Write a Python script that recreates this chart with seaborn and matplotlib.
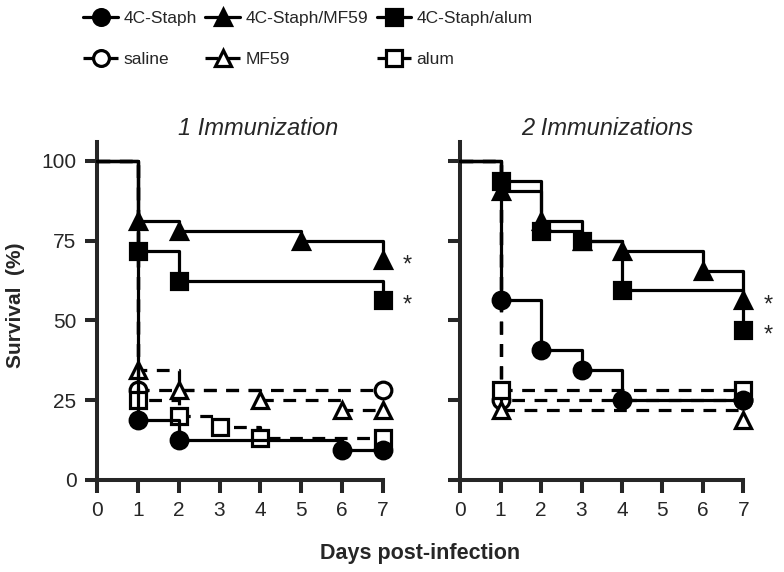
import matplotlib.pyplot as plt
import seaborn as sns

# ---- 1 immunization (days, survival %) ----
days_staph_1 = [0, 1, 2, 6, 7]
surv_staph_1 = [100, 18.8, 12.5, 9.4, 9.4]
days_staph_mf59_1 = [0, 1, 2, 5, 7]
surv_staph_mf59_1 = [100, 81.3, 78.1, 75.0, 68.8]
days_staph_alum_1 = [0, 1, 2, 7]
surv_staph_alum_1 = [100, 71.9, 62.5, 56.3]
days_saline_1 = [0, 1, 7]
surv_saline_1 = [100, 28.1, 28.1]
days_mf59_1 = [0, 1, 2, 4, 6, 7]
surv_mf59_1 = [100, 34.4, 28.1, 25.0, 21.9, 21.9]
days_alum_1 = [0, 1, 2, 3, 4, 7]
surv_alum_1 = [100, 25.0, 20.0, 16.5, 13.0, 13.0]

# ---- 2 immunizations ----
days_staph_2 = [0, 1, 2, 3, 4, 7]
surv_staph_2 = [100, 56.3, 40.6, 34.4, 25.0, 25.0]
days_staph_mf59_2 = [0, 1, 2, 3, 4, 6, 7]
surv_staph_mf59_2 = [100, 90.6, 81.3, 75.0, 71.9, 65.6, 56.3]
days_staph_alum_2 = [0, 1, 2, 3, 4, 7]
surv_staph_alum_2 = [100, 93.8, 78.1, 75.0, 59.4, 46.9]
days_saline_2 = [0, 1, 7]
surv_saline_2 = [100, 25.0, 25.0]
days_mf59_2 = [0, 1, 7]
surv_mf59_2 = [100, 21.9, 18.8]
days_alum_2 = [0, 1, 7]
surv_alum_2 = [100, 28.1, 28.1]

# significance marks at day 7
star_y_1 = [68.8, 56.3]
star_y_2 = [56.3, 46.9]

panel_titles = ["1 Immunization", "2 Immunizations"]
day_ticks = [0, 1, 2, 3, 4, 5, 6, 7]
surv_ticks = [0, 25, 50, 75, 100]

sns.set_style("ticks")
plt.rcParams["font.family"] = ["Liberation Sans", "DejaVu Sans"]

fig = plt.figure(figsize=(7.84, 5.72), dpi=100)
ax1 = fig.add_axes([0.124, 0.161, 0.364, 0.591])
ax2 = fig.add_axes([0.587, 0.161, 0.361, 0.591])

# name -> (marker, face colour, line style); controls drawn first (underneath)
styles = {
    "saline": ("o", "white", (0, (4, 3))),
    "MF59": ("^", "white", (0, (4, 3))),
    "alum": ("s", "white", (0, (4, 3))),
    "4C-Staph": ("o", "black", "-"),
    "4C-Staph/MF59": ("^", "black", "-"),
    "4C-Staph/alum": ("s", "black", "-"),
}

panel_data = [
    {
        "saline": (days_saline_1, surv_saline_1),
        "MF59": (days_mf59_1, surv_mf59_1),
        "alum": (days_alum_1, surv_alum_1),
        "4C-Staph": (days_staph_1, surv_staph_1),
        "4C-Staph/MF59": (days_staph_mf59_1, surv_staph_mf59_1),
        "4C-Staph/alum": (days_staph_alum_1, surv_staph_alum_1),
    },
    {
        "saline": (days_saline_2, surv_saline_2),
        "MF59": (days_mf59_2, surv_mf59_2),
        "alum": (days_alum_2, surv_alum_2),
        "4C-Staph": (days_staph_2, surv_staph_2),
        "4C-Staph/MF59": (days_staph_mf59_2, surv_staph_mf59_2),
        "4C-Staph/alum": (days_staph_alum_2, surv_staph_alum_2),
    },
]

for ax, data, stars in zip([ax1, ax2], panel_data, [star_y_1, star_y_2]):
    for z, (name, (x, y)) in enumerate(data.items()):
        mk, fc, ls = styles[name]
        sns.lineplot(x=x, y=y, ax=ax, drawstyle="steps-post", color="black",
                     linestyle=ls, linewidth=2.3, marker=mk, markersize=12,
                     markerfacecolor=fc, markeredgecolor="black", markeredgewidth=2.3,
                     markevery=slice(1, None), errorbar=None, clip_on=False,
                     label=name, zorder=3 + z)
    for sy in stars:
        ax.text(7.5, sy - 1.5, "*", fontsize=17, ha="left", va="center")
    ax.get_legend().remove()
    ax.set_xlim(0, 7)
    ax.set_ylim(0, 106)
    ax.set_xticks(day_ticks)
    ax.set_yticks(surv_ticks)
    ax.set_xlabel("")
    ax.set_ylabel("")
    ax.tick_params(direction="out", length=9, width=2.9, labelsize=15, pad=6)
    for sp in ["left", "bottom"]:
        ax.spines[sp].set_linewidth(2.9)
    sns.despine(ax=ax)

ax2.tick_params(labelleft=False)

fig.text(0.329, 0.776, panel_titles[0], fontsize=17, style="italic", ha="center", va="center")
fig.text(0.774, 0.776, panel_titles[1], fontsize=17, style="italic", ha="center", va="center")
fig.text(0.02, 0.467, "Survival  (%)", fontsize=15, fontweight="bold", rotation=90,
         ha="center", va="center")
fig.text(0.536, 0.032, "Days post-infection", fontsize=15.5, fontweight="bold",
         ha="center", va="center")

h, l = ax1.get_legend_handles_labels()
lookup = dict(zip(l, h))
order = ["4C-Staph", "saline", "4C-Staph/MF59", "MF59", "4C-Staph/alum", "alum"]
fig.legend([lookup[k] for k in order], order, ncol=3, loc="upper left",
           bbox_to_anchor=(0.092, 1.0), frameon=False, handlelength=2.0,
           columnspacing=0.5, handletextpad=0.3, labelspacing=1.45, borderaxespad=0.25,
           markerscale=0.95, fontsize=12.5)

fig.savefig("out.png", dpi=100)
